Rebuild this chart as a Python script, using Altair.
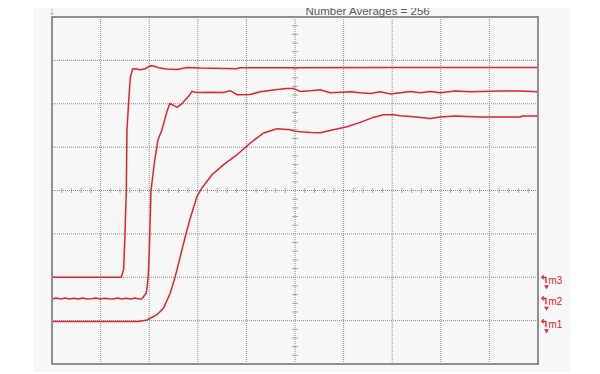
import altair as alt
import pandas as pd

# ---- data (in screen divisions: x 0..10, y 0..8) ----
t1_x = [0, 1.426, 1.473, 1.498, 1.529, 1.543, 1.580, 1.611, 1.658, 1.714, 1.817, 1.920, 2.023,
        2.091, 2.193, 2.366, 2.572, 2.778, 3.051, 3.792, 3.874, 4.903, 7.167, 10.0]
t1_y = [2.00, 2.00, 2.174, 2.866, 3.995, 5.402, 6.094, 6.601, 6.801, 6.808, 6.785, 6.808, 6.877,
        6.870, 6.831, 6.801, 6.792, 6.838, 6.824, 6.808, 6.831, 6.831, 6.838, 6.838]

t2_x = [0, 0.09, 0.18, 0.27, 0.36, 0.45, 0.54, 0.63, 0.72, 0.81, 0.90, 0.99, 1.08, 1.17, 1.26,
        1.35, 1.44, 1.53, 1.62, 1.71, 1.80, 1.852,
        1.940, 1.967, 1.988, 2.002, 2.037, 2.105, 2.181, 2.263, 2.366, 2.420, 2.475, 2.572, 2.675,
        2.743, 2.811, 2.881, 2.949, 3.051, 3.257, 3.525, 3.669, 3.807, 4.081, 4.286, 4.595, 4.821,
        4.965, 5.109, 5.315, 5.521, 5.726, 5.932, 6.138, 6.344, 6.549, 6.755, 6.961, 7.167, 7.372,
        7.578, 7.784, 7.990, 8.298, 8.607, 9.225, 9.636, 10.0]
t2_y = [1.500, 1.520, 1.500, 1.520, 1.500, 1.515, 1.500, 1.520, 1.500, 1.505, 1.520, 1.500, 1.515,
        1.505, 1.500, 1.520, 1.500, 1.515, 1.500, 1.520, 1.500, 1.505,
        1.637, 1.867, 2.174, 2.635, 3.995, 4.634, 5.171, 5.402, 5.824, 6.001, 5.978, 5.916, 6.001,
        6.093, 6.170, 6.285, 6.266, 6.262, 6.266, 6.262, 6.301, 6.209, 6.216, 6.278, 6.324, 6.354,
        6.354, 6.285, 6.301, 6.324, 6.255, 6.266, 6.278, 6.255, 6.239, 6.278, 6.225, 6.255, 6.285,
        6.255, 6.285, 6.255, 6.294, 6.278, 6.294, 6.294, 6.278]

t3_x = [0, 1.776, 1.955, 2.160, 2.296, 2.434, 2.537, 2.640, 2.743, 2.846, 2.984, 3.086, 3.292,
        3.531, 3.807, 4.080, 4.354, 4.630, 4.903, 5.006, 5.315, 5.521, 5.788, 6.070, 6.344, 6.611,
        6.823, 7.029, 7.167, 7.434, 7.784, 7.990, 8.298, 8.812, 9.636, 9.677, 10.0]
t3_y = [0.982, 0.982, 1.014, 1.137, 1.291, 1.637, 2.020, 2.481, 2.942, 3.366, 3.864, 4.058, 4.364,
        4.595, 4.825, 5.095, 5.326, 5.425, 5.402, 5.363, 5.340, 5.333, 5.402, 5.471, 5.570, 5.685,
        5.748, 5.748, 5.724, 5.701, 5.662, 5.694, 5.718, 5.694, 5.694, 5.718, 5.718]

marker_names = ["m3", "m2", "m1"]
marker_levels = [2.00, 1.505, 0.982]

title_text = ["Number Averages = 256"]

grid_x = [1, 2, 3, 4, 5, 6, 7, 8, 9]
grid_y = [1, 2, 3, 4, 5, 6, 7]
minor_x = [i / 5 for i in range(1, 50) if i % 5]
minor_y = [i / 5 for i in range(1, 40) if i % 5]

RED = "#e0242c"
GRID = "#8c8c8c"

rows = []
for name, xs_, ys_ in [("t1", t1_x, t1_y), ("t2", t2_x, t2_y), ("t3", t3_x, t3_y)]:
    for i, (a, b) in enumerate(zip(xs_, ys_)):
        rows.append({"trace": name, "x": a, "y": b, "i": i})
traces = pd.DataFrame(rows)

xs = alt.Scale(domain=[0, 10], nice=False, zero=False)
ys = alt.Scale(domain=[0, 8], nice=False, zero=False)
X = lambda f: alt.X(f, scale=xs, axis=None)
Y = lambda f: alt.Y(f, scale=ys, axis=None)

bg = alt.Chart(pd.DataFrame({"x": [-0.385], "x2": [10.665], "y": [-0.19], "y2": [8.6]})).mark_rect(
    color="#f7f7f7").encode(x=X("x:Q"), x2="x2:Q", y=Y("y:Q"), y2="y2:Q")

gx = alt.Chart(pd.DataFrame({"g": grid_x})).mark_rule(color=GRID, strokeDash=[1, 1], strokeWidth=1).encode(x=X("g:Q"))
gy = alt.Chart(pd.DataFrame({"g": grid_y})).mark_rule(color=GRID, strokeDash=[1, 1], strokeWidth=1).encode(y=Y("g:Q"))

tx = alt.Chart(pd.DataFrame({"x": minor_x, "y": [4] * len(minor_x)})).mark_tick(
    color="#8a8a8a", orient="vertical", size=5, thickness=1).encode(x=X("x:Q"), y=Y("y:Q"))
ty = alt.Chart(pd.DataFrame({"x": [5] * len(minor_y), "y": minor_y})).mark_tick(
    color="#8a8a8a", orient="horizontal", size=6, thickness=1).encode(x=X("x:Q"), y=Y("y:Q"))

lines = alt.Chart(traces).mark_line(color=RED, strokeWidth=1.5, interpolate="linear").encode(
    x=X("x:Q"), y=Y("y:Q"), detail="trace:N", order="i:Q")

frame = alt.Chart(pd.DataFrame({"x": [0], "x2": [10], "y": [0], "y2": [8]})).mark_rect(
    filled=False, stroke="#8f8f8f", strokeWidth=2).encode(x=X("x:Q"), x2="x2:Q", y=Y("y:Q"), y2="y2:Q")

title = alt.Chart(pd.DataFrame({"t": title_text, "x": [6.494], "y": [8.118]})).mark_text(
    font="Liberation Sans", fontSize=11.5, color="#5a5a5a", baseline="middle", align="center").encode(
    x=X("x:Q"), y=Y("y:Q"), text="t:N")

arrow = alt.Chart(pd.DataFrame({"t": ["↓"], "x": [0.0], "y": [8.105]})).mark_text(
    font="DejaVu Sans", fontSize=9, color="#b4b4b4", baseline="middle", align="center").encode(
    x=X("x:Q"), y=Y("y:Q"), text="t:N")

mk = pd.DataFrame({"name": marker_names, "level": marker_levels, "x": [10.0] * 3})
mk_label = alt.Chart(mk).mark_text(font="Liberation Sans", fontSize=10, color=RED, align="left",
                                   baseline="middle", dx=10.5, dy=3.5).encode(x=X("x:Q"), y=Y("level:Q"), text="name:N")
mk_hook = alt.Chart(mk).mark_text(font="DejaVu Sans", fontSize=11, color=RED, align="center",
                                  baseline="middle", dx=6, dy=2.5, fontWeight="bold").encode(
    x=X("x:Q"), y=Y("level:Q"), text=alt.value("↰"))
mk_tri = alt.Chart(mk).mark_point(shape="triangle-down", filled=True, size=22, color=RED, opacity=1).encode(
    x=X("x:Q"), y=Y("level:Q"), xOffset=alt.value(8.5), yOffset=alt.value(10))

chart = alt.layer(bg, gx, gy, tx, ty, lines, frame, title, arrow, mk_label, mk_hook, mk_tri).properties(
    width=486, height=347,
    autosize=alt.AutoSizeParams(type="none"),
    padding={"left": 44, "top": 9, "right": 54, "bottom": 8},
    background="#ffffff",
).configure_view(stroke=None)

chart.save("out.html", embed_options={"renderer": "svg", "actions": False})
